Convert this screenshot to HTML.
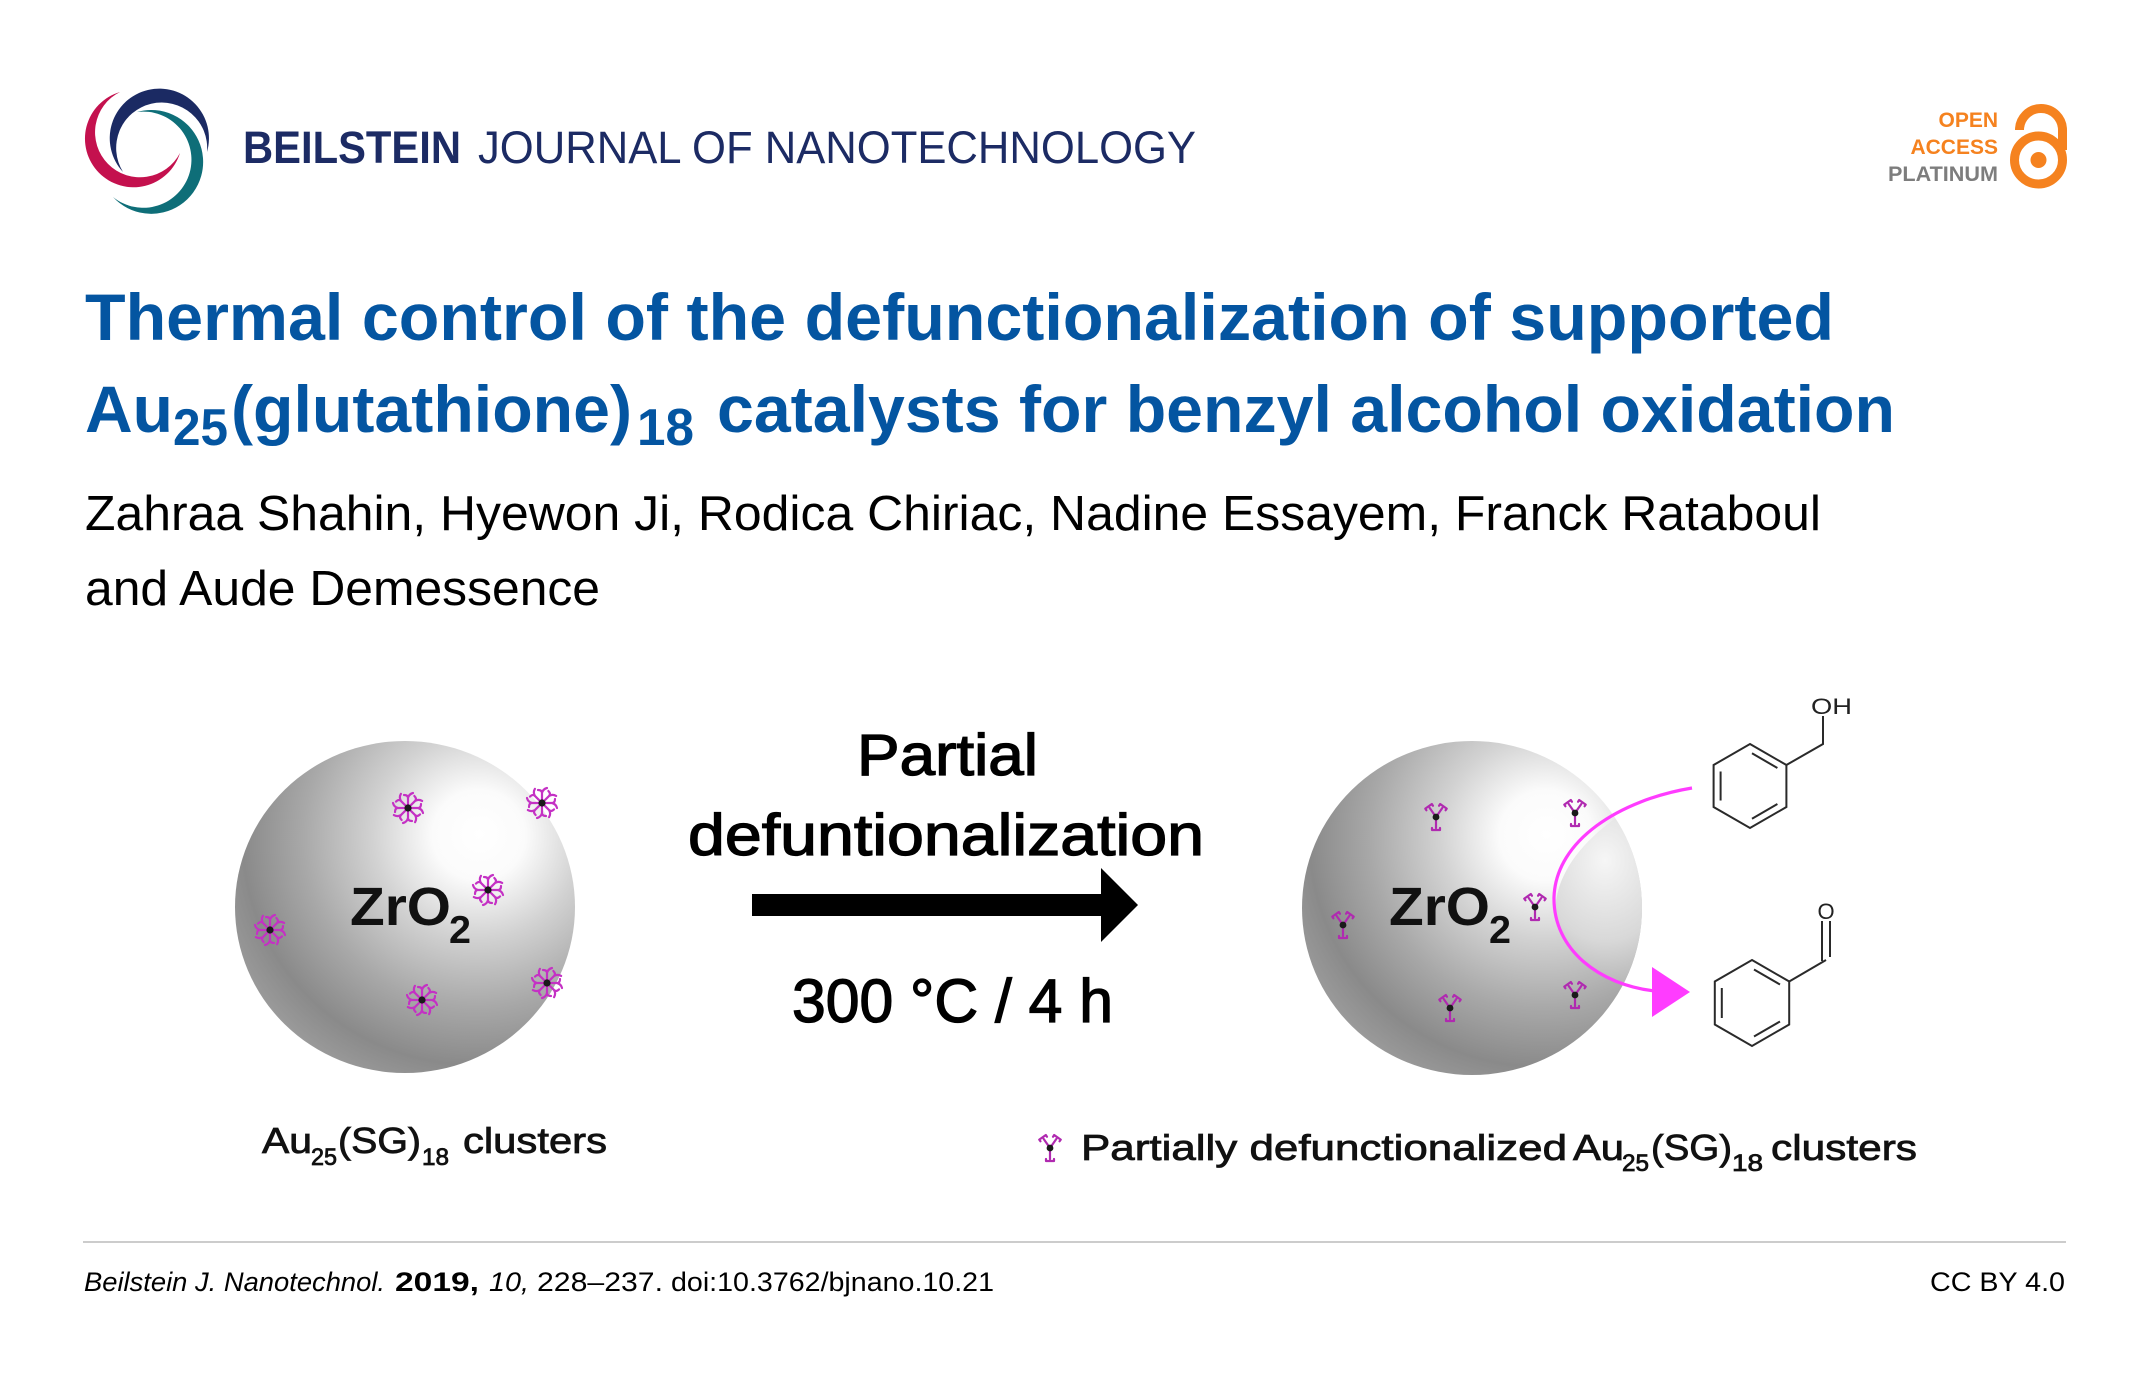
<!DOCTYPE html>
<html><head><meta charset="utf-8"><style>
html,body{margin:0;padding:0;background:#fff;}
svg{display:block;}
text{font-family:"Liberation Sans",Arial,sans-serif;}
</style></head><body>
<svg width="2150" height="1392" viewBox="0 0 2150 1392" xmlns="http://www.w3.org/2000/svg" xmlns:xlink="http://www.w3.org/1999/xlink">
<defs>
<radialGradient id="sph" cx="0.7" cy="0.3" r="0.85" fx="0.72" fy="0.28">
<stop offset="0" stop-color="#ffffff"/>
<stop offset="0.16" stop-color="#fbfbfb"/>
<stop offset="0.36" stop-color="#d2d2d2"/>
<stop offset="0.6" stop-color="#a8a8a8"/>
<stop offset="0.8" stop-color="#8a8a8a"/>
<stop offset="1" stop-color="#a4a4a4"/>
</radialGradient>
<radialGradient id="lens" cx="0.3" cy="0.35" r="0.8">
<stop offset="0" stop-color="#f6f6f6"/>
<stop offset="0.5" stop-color="#d8d8d8"/>
<stop offset="1" stop-color="#9c9c9c"/>
</radialGradient>
<clipPath id="rsclip"><ellipse cx="1472" cy="908" rx="170" ry="167"/></clipPath>
<g id="arm" fill="none" stroke="#c431c4" stroke-width="2.2" stroke-linecap="round" stroke-linejoin="round">
<path d="M0,0 L10,0 Q13,0 13,-4 M10,0 Q14,1 15,5"/>
</g>
<g id="fc">
<use xlink:href="#arm" href="#arm"/>
<use xlink:href="#arm" href="#arm" transform="rotate(45)"/>
<use xlink:href="#arm" href="#arm" transform="rotate(90)"/>
<use xlink:href="#arm" href="#arm" transform="rotate(135)"/>
<use xlink:href="#arm" href="#arm" transform="rotate(180)"/>
<use xlink:href="#arm" href="#arm" transform="rotate(225)"/>
<use xlink:href="#arm" href="#arm" transform="rotate(270)"/>
<use xlink:href="#arm" href="#arm" transform="rotate(315)"/>
<circle r="3.6" fill="#1a1a1a"/>
</g>
<g id="parm" fill="none" stroke="#b02ab0" stroke-width="2.2" stroke-linecap="round" stroke-linejoin="round">
<path d="M0,0 L11,0 M11,-4 L13,-4 L13,4 L11,4"/>
</g>
<g id="pc">
<use xlink:href="#parm" href="#parm" transform="rotate(-125)"/>
<use xlink:href="#parm" href="#parm" transform="rotate(-55)"/>
<use xlink:href="#parm" href="#parm" transform="rotate(90)"/>
<circle r="3.4" fill="#1a1a1a"/>
</g>
</defs>

<rect width="2150" height="1392" fill="#fff"/>

<!-- Logo -->
<path d="M123,172 A49.6,49.6 0 1 1 207,152 A45.5,45.5 0 1 0 123,172 Z" fill="#1b2a63"/>
<path d="M120,92 A48.6,48.6 0 1 0 180,153 A45,45 0 1 1 120,92 Z" fill="#c4114e"/>
<path d="M137,112 A51.9,51.9 0 1 1 113,197 A48.1,48.1 0 1 0 137,112 Z" fill="#0e6e78"/>

<text x="243" y="163" font-size="45" font-weight="bold" fill="#1c2b64" textLength="218" lengthAdjust="spacingAndGlyphs">BEILSTEIN</text>
<text x="478" y="163" font-size="45" fill="#1c2b64" textLength="718" lengthAdjust="spacingAndGlyphs">JOURNAL OF NANOTECHNOLOGY</text>

<!-- Open access -->
<text x="1998" y="127" font-size="21" font-weight="bold" fill="#f5821f" text-anchor="end">OPEN</text>
<text x="1998" y="154" font-size="21" font-weight="bold" fill="#f5821f" text-anchor="end">ACCESS</text>
<text x="1888" y="181" font-size="21" font-weight="bold" fill="#7d7d7d" textLength="110" lengthAdjust="spacingAndGlyphs">PLATINUM</text>
<path d="M2019.5,130 A21.5,21.5 0 0 1 2062.5,130 L2062.5,150" fill="none" stroke="#f5821f" stroke-width="9"/>
<circle cx="2038.5" cy="160" r="24" fill="none" stroke="#f5821f" stroke-width="9"/>
<circle cx="2038.5" cy="160" r="8" fill="#f5821f"/>

<!-- Title -->
<g fill="#0455a1" font-weight="bold">
<text x="85" y="340" font-size="66" textLength="1749" lengthAdjust="spacingAndGlyphs">Thermal control of the defunctionalization of supported</text>
<text x="85" y="432" font-size="66" textLength="88" lengthAdjust="spacingAndGlyphs">Au</text>
<text x="173" y="445" font-size="52" textLength="55" lengthAdjust="spacingAndGlyphs">25</text>
<text x="231" y="432" font-size="66" textLength="401" lengthAdjust="spacingAndGlyphs">(glutathione)</text>
<text x="637" y="445" font-size="52" textLength="57" lengthAdjust="spacingAndGlyphs">18</text>
<text x="717" y="432" font-size="66" textLength="1178" lengthAdjust="spacingAndGlyphs">catalysts for benzyl alcohol oxidation</text>
</g>

<!-- Authors -->
<text x="85" y="530" font-size="49.5" fill="#000" textLength="1736" lengthAdjust="spacingAndGlyphs">Zahraa Shahin, Hyewon Ji, Rodica Chiriac, Nadine Essayem, Franck Rataboul</text>
<text x="85" y="605" font-size="49.5" fill="#000" textLength="515" lengthAdjust="spacingAndGlyphs">and Aude Demessence</text>

<!-- Left sphere -->
<ellipse cx="405" cy="907" rx="170" ry="166" fill="url(#sph)"/>
<text x="350" y="925" font-size="54" font-weight="bold" fill="#111" textLength="101" lengthAdjust="spacingAndGlyphs">ZrO</text>
<text x="449" y="943" font-size="39" font-weight="bold" fill="#111" textLength="22" lengthAdjust="spacingAndGlyphs">2</text>
<use xlink:href="#fc" href="#fc" x="408" y="808"/>
<use xlink:href="#fc" href="#fc" x="542" y="803"/>
<use xlink:href="#fc" href="#fc" x="488" y="890"/>
<use xlink:href="#fc" href="#fc" x="270" y="930"/>
<use xlink:href="#fc" href="#fc" x="422" y="1000"/>
<use xlink:href="#fc" href="#fc" x="547" y="983"/>

<g fill="#111" stroke="#111" stroke-width="0.8">
<text x="262" y="1153" font-size="36" textLength="50" lengthAdjust="spacingAndGlyphs">Au</text>
<text x="311" y="1165" font-size="24" textLength="26" lengthAdjust="spacingAndGlyphs">25</text>
<text x="338" y="1153" font-size="36" textLength="83" lengthAdjust="spacingAndGlyphs">(SG)</text>
<text x="422" y="1165" font-size="24" textLength="27" lengthAdjust="spacingAndGlyphs">18</text>
<text x="463" y="1153" font-size="36" textLength="144" lengthAdjust="spacingAndGlyphs">clusters</text>
</g>

<!-- Middle arrow and text -->
<g fill="#000" stroke="#000" stroke-width="1.3">
<text x="857" y="775" font-size="58" textLength="181" lengthAdjust="spacingAndGlyphs">Partial</text>
<text x="688" y="855" font-size="58" textLength="516" lengthAdjust="spacingAndGlyphs">defuntionalization</text>
<text x="792" y="1022" font-size="61" textLength="321" lengthAdjust="spacingAndGlyphs">300 °C / 4 h</text>
</g>
<rect x="752" y="894" width="352" height="22" fill="#000"/>
<polygon points="1101,868 1138,905 1101,942" fill="#000"/>

<!-- Right sphere -->
<ellipse cx="1472" cy="908" rx="170" ry="167" fill="url(#sph)"/>
<g clip-path="url(#rsclip)">
<path d="M1625,812 C1572,846 1553,885 1556,915 C1562,960 1610,985 1650,992 L1720,992 L1720,790 Z" fill="url(#lens)"/>
</g>
<text x="1389" y="925" font-size="54" font-weight="bold" fill="#111" textLength="101" lengthAdjust="spacingAndGlyphs">ZrO</text>
<text x="1489" y="943" font-size="39" font-weight="bold" fill="#111" textLength="22" lengthAdjust="spacingAndGlyphs">2</text>
<use xlink:href="#pc" href="#pc" x="1436" y="817"/>
<use xlink:href="#pc" href="#pc" x="1575" y="813"/>
<use xlink:href="#pc" href="#pc" x="1343" y="925"/>
<use xlink:href="#pc" href="#pc" x="1535" y="907"/>
<use xlink:href="#pc" href="#pc" x="1450" y="1008"/>
<use xlink:href="#pc" href="#pc" x="1575" y="995"/>

<path d="M1692,788 C1620,800 1556,840 1554,897 C1553,950 1600,985 1655,991" fill="none" stroke="#ff3cff" stroke-width="3.2"/>
<polygon points="1652,967 1690,992 1652,1017" fill="#ff3cff"/>

<!-- Molecules -->
<g fill="none" stroke="#2a2a2a" stroke-width="2">
<polygon points="1750,744 1786.4,765 1786.4,807 1750,828 1713.6,807 1713.6,765"/>
<line x1="1720.6" y1="771.5" x2="1720.6" y2="800.5"/>
<line x1="1752" y1="753.3" x2="1777.4" y2="768"/>
<line x1="1777.4" y1="804" x2="1752" y2="818.7"/>
<polyline points="1786.4,765 1823,744 1823,716"/>

<polygon points="1752,960 1789.2,981.5 1789.2,1024.5 1752,1046 1714.8,1024.5 1714.8,981.5"/>
<line x1="1721.8" y1="988" x2="1721.8" y2="1018"/>
<line x1="1754" y1="969.5" x2="1780" y2="984.5"/>
<line x1="1780" y1="1021.5" x2="1754" y2="1036.5"/>
<line x1="1789.2" y1="981.5" x2="1826" y2="960"/>
<line x1="1822" y1="961" x2="1822" y2="921"/>
<line x1="1830" y1="957" x2="1830" y2="921"/>
</g>
<text x="1811" y="714" font-size="22" fill="#222" textLength="41" lengthAdjust="spacingAndGlyphs">OH</text>
<text x="1826" y="919" font-size="22" fill="#222" text-anchor="middle">O</text>

<!-- Right caption -->
<use xlink:href="#pc" href="#pc" x="1050" y="1148"/>
<g fill="#111" stroke="#111" stroke-width="0.8">
<text x="1081" y="1160" font-size="36" textLength="486" lengthAdjust="spacingAndGlyphs">Partially defunctionalized</text>
<text x="1573" y="1160" font-size="36" textLength="51" lengthAdjust="spacingAndGlyphs">Au</text>
<text x="1622" y="1171" font-size="24" textLength="27" lengthAdjust="spacingAndGlyphs">25</text>
<text x="1651" y="1160" font-size="36" textLength="81" lengthAdjust="spacingAndGlyphs">(SG)</text>
<text x="1732" y="1171" font-size="24" textLength="31" lengthAdjust="spacingAndGlyphs">18</text>
<text x="1771" y="1160" font-size="36" textLength="146" lengthAdjust="spacingAndGlyphs">clusters</text>
</g>

<!-- Footer -->
<line x1="83" y1="1242" x2="2066" y2="1242" stroke="#cccccc" stroke-width="2"/>
<text x="84" y="1291" font-size="27" font-style="italic" fill="#000" textLength="301" lengthAdjust="spacingAndGlyphs">Beilstein J. Nanotechnol.</text>
<text x="395" y="1291" font-size="27" font-weight="bold" fill="#000" textLength="84" lengthAdjust="spacingAndGlyphs">2019,</text>
<text x="489" y="1291" font-size="27" font-style="italic" fill="#000" textLength="40" lengthAdjust="spacingAndGlyphs">10,</text>
<text x="537" y="1291" font-size="27" fill="#000" textLength="126" lengthAdjust="spacingAndGlyphs">228–237.</text>
<text x="671" y="1291" font-size="27" fill="#000" textLength="323" lengthAdjust="spacingAndGlyphs">doi:10.3762/bjnano.10.21</text>
<text x="1930" y="1291" font-size="27" fill="#000" textLength="135" lengthAdjust="spacingAndGlyphs">CC BY 4.0</text>
</svg>
</body></html>
